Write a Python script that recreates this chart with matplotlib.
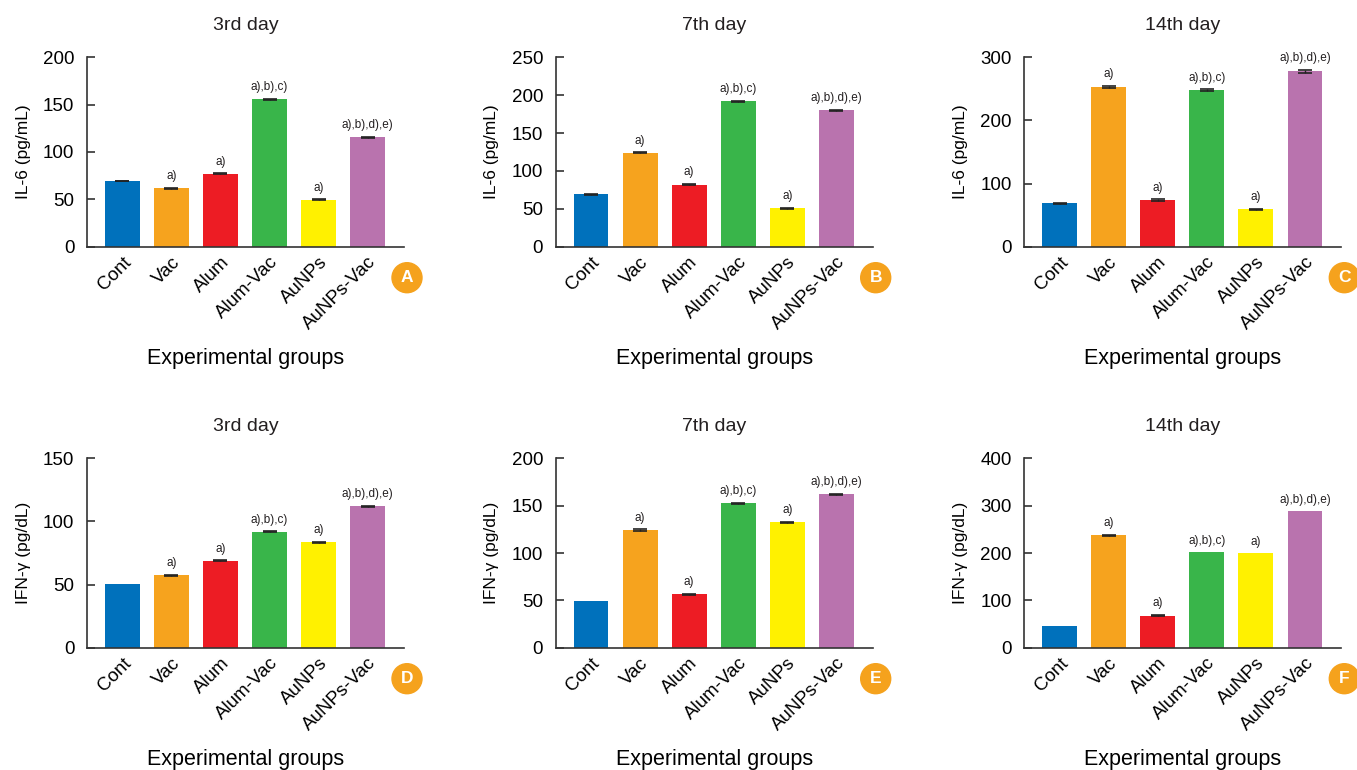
import numpy as np
import matplotlib.pyplot as plt
from matplotlib.patches import Circle

plt.rcParams['font.family'] = ['Liberation Sans', 'DejaVu Sans']
plt.rcParams['text.color'] = '#231f20'

groups = ['Cont', 'Vac', 'Alum', 'Alum-Vac', 'AuNPs', 'AuNPs-Vac']
colors = ['#0071bc', '#f6a31e', '#ed1c24', '#39b54a', '#fff100', '#b973ae']
marks = ['', 'a)', 'a)', 'a),b),c)', 'a)', 'a),b),d),e)']

# IL-6 (pg/mL)
il6_d3 = [69.5, 61.8, 76.8, 155.8, 49.5, 115.8]
il6_d3_err = [0.4, 0.5, 0.5, 0.5, 0.6, 0.5]
il6_d7 = [69, 124, 82, 192, 51, 180]
il6_d7_err = [0.6, 0.7, 0.7, 0.8, 0.6, 0.6]
il6_d14 = [69, 253, 74, 248, 59, 278]
il6_d14_err = [1.0, 1.5, 1.0, 1.5, 1.0, 2.5]
# IFN-gamma (pg/dL)
ifn_d3 = [50.1, 57.2, 68.9, 91.9, 83.5, 112.1]
ifn_d3_err = [0, 0.4, 0.3, 0.3, 0.4, 0.4]
ifn_d7 = [49.8, 124, 56.2, 152.7, 132.5, 162.2]
ifn_d7_err = [0, 1.0, 0.8, 0.6, 0.6, 0.6]
ifn_d14 = [46.6, 237.5, 67.8, 201.4, 199.3, 288.3]
ifn_d14_err = [0, 1.5, 1.5, 0, 0, 0]

panels = [
    ('3rd day', 'IL-6 (pg/mL)', il6_d3, il6_d3_err, 200, 50, 'A'),
    ('7th day', 'IL-6 (pg/mL)', il6_d7, il6_d7_err, 250, 50, 'B'),
    ('14th day', 'IL-6 (pg/mL)', il6_d14, il6_d14_err, 300, 100, 'C'),
    ('3rd day', 'IFN-γ (pg/dL)', ifn_d3, ifn_d3_err, 150, 50, 'D'),
    ('7th day', 'IFN-γ (pg/dL)', ifn_d7, ifn_d7_err, 200, 50, 'E'),
    ('14th day', 'IFN-γ (pg/dL)', ifn_d14, ifn_d14_err, 400, 100, 'F'),
]

W, H = 1357, 770
fig = plt.figure(figsize=(W / 100, H / 100), dpi=100)

lefts = [87, 555.7, 1024.3]
width_px = 317
tops = [57.3, 458.3]
height_px = 189.4
dark = '#333333'
badge = '#f5a21d'

for i, (title, ylab, vals, errs, ymax, step, letter) in enumerate(panels):
    l = lefts[i % 3]
    t = tops[i // 3]
    ax = fig.add_axes([l / W, 1 - (t + height_px) / H, width_px / W, height_px / H])
    x = np.arange(len(groups))
    ax.bar(x, vals, width=0.71, color=colors, edgecolor='none', zorder=2)
    e = np.array(errs)
    v = np.array(vals)
    m = e > 0
    ax.errorbar(x[m], v[m], yerr=e[m], fmt='none', ecolor='#222222',
                elinewidth=1, capsize=5, capthick=1.2, zorder=3)
    for xi, vi, ei, mk in zip(x, vals, errs, marks):
        if mk:
            ax.annotate(mk, (xi, vi + ei), xytext=(0, 4), textcoords='offset points',
                        ha='center', va='bottom', fontsize=8.5)
    ax.set_xlim(-0.72, 5.74)
    ax.set_ylim(0, ymax)
    ax.set_yticks(np.arange(0, ymax + 1, step))
    ax.set_xticks(x)
    ax.set_xticklabels(groups, rotation=45, ha='right', va='top',
                       rotation_mode='anchor', fontsize=13.5)
    ax.tick_params(axis='x', length=0, pad=5)
    ax.tick_params(axis='y', direction='in', length=6, width=1.2, color=dark,
                   labelsize=13.5, pad=9)
    for s in ['top', 'right']:
        ax.spines[s].set_visible(False)
    for s in ['left', 'bottom']:
        ax.spines[s].set_color(dark)
        ax.spines[s].set_linewidth(1.2)
    ax.set_title(title, fontsize=14, pad=20)
    ax.set_ylabel(ylab, fontsize=12.5)
    ax.yaxis.set_label_coords(-0.178, 0.5)
    ax.set_xlabel('Experimental groups', fontsize=15.5, va='top')
    ax.xaxis.set_label_coords(0.5, -0.535)

    # panel letter badge
    bx = l + width_px + 3
    by = t + height_px + 31
    fig.add_artist(Circle((bx / 100, (H - by) / 100), 0.15,
                          transform=fig.dpi_scale_trans, color=badge, zorder=5))
    fig.text(bx / W, 1 - by / H, letter, ha='center', va='center', color='white',
             fontsize=12.5, fontweight='bold', zorder=6)

fig.savefig('out.png', dpi=100)
